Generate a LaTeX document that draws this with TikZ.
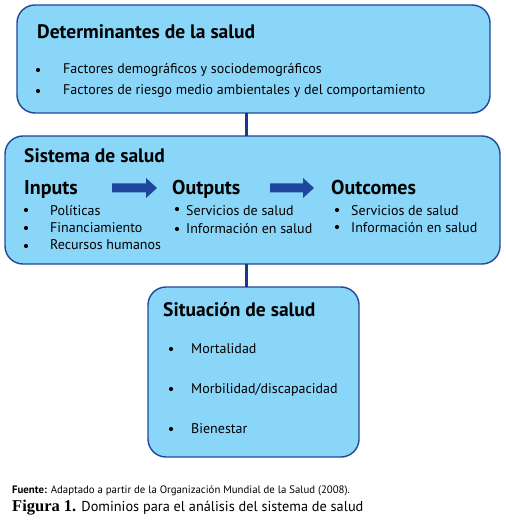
\documentclass[tikz,border=0pt]{standalone}
\usepackage{fontspec}
\setmainfont{PT Sans}
\newfontfamily\serifb{Liberation Serif}
\definecolor{boxfill}{RGB}{138,214,248}
\definecolor{boxline}{RGB}{30,72,150}
\definecolor{navy}{RGB}{24,58,140}
\definecolor{arrowc}{RGB}{30,70,155}
\tikzset{
  bigbox/.style={draw=boxline, fill=boxfill, line width=1.4pt, rounded corners=18pt},
  title/.style={anchor=base west, inner sep=0pt, font=\fontsize{19.5}{22}\selectfont\bfseries},
  sub/.style={anchor=base west, inner sep=0pt, font=\fontsize{20}{22}\selectfont\bfseries},
  txt/.style={anchor=base west, inner sep=0pt, font=\fontsize{14}{16}\selectfont},
  bul/.style={circle, fill=black, inner sep=0pt, minimum size=4.2pt},
  conn/.style={draw=navy, line width=3pt},
  blockarrow/.style={fill=arrowc, draw=none}
}
\begin{document}
\begin{tikzpicture}[x=1pt,y=-1pt]
\useasboundingbox (0,0) rectangle (505,521);
% boxes
\path[bigbox] (17,5) rectangle (490,113);
\path[bigbox] (5,136) rectangle (500,264);
\path[bigbox] (148,287) rectangle (359,457);
\coordinate (b1bot) at (246,113);
\coordinate (b2top) at (246,136);
\coordinate (b2bot) at (246,264);
\coordinate (b3top) at (246,287);
\draw[conn] (b1bot) -- (b2top);
\draw[conn] (b2bot) -- (b3top);
% box 1
\node[title] (t1) at (37,39) {Determinantes de la salud};
\node[bul] (d1) at (38,70) {};
\node[txt] (d1t) at (63,74) {Factores demográficos y sociodemográficos};
\node[bul] (d2) at (38,91) {};
\node[txt] (d2t) at (63,95) {Factores de riesgo medio ambientales y del comportamiento};
% box 2
\node[title] (t2) at (24,163) {Sistema de salud};
\node[sub] (in) at (24,194) {Inputs};
\node[sub] (out) at (172,194) {Outputs};
\node[sub] (oc) at (331,194) {Outcomes};
\fill[blockarrow] (112,183.5) -- (146,183.5) -- (146,178) -- (157,188) -- (146,198) -- (146,192.5) -- (112,192.5) -- cycle;
\fill[blockarrow] (270,183.5) -- (303,183.5) -- (303,178) -- (314,188) -- (303,198) -- (303,192.5) -- (270,192.5) -- cycle;
\node[bul] (i1) at (26,210) {};
\node[txt] (i1t) at (50,215) {Políticas};
\node[bul] (i2) at (26,228) {};
\node[txt] (i2t) at (50,232) {Financiamiento};
\node[bul] (i3) at (26,246) {};
\node[txt] (i3t) at (50,249) {Recursos humanos};
\node[bul] (o1) at (177,209) {};
\node[txt] (o1t) at (186,215) {Servicios de salud};
\node[bul] (o2) at (177,229) {};
\node[txt] (o2t) at (186,233) {Información en salud};
\node[bul] (c1) at (337,210) {};
\node[txt] (c1t) at (351,215) {Servicios de salud};
\node[bul] (c2) at (337,227) {};
\node[txt] (c2t) at (351,232) {Información en salud};
% box 3
\node[title] (t3) at (163,316) {Situación de salud};
\node[bul] (s1) at (171,349) {};
\node[txt] (s1t) at (191,353) {Mortalidad};
\node[bul] (s2) at (171,389) {};
\node[txt] (s2t) at (191,393) {Morbilidad/discapacidad};
\node[bul] (s3) at (171,429) {};
\node[txt] (s3t) at (191,433) {Bienestar};
% footer
\node[anchor=base west, inner sep=0pt, font=\fontsize{10.8}{12}\selectfont] (src) at (12,493) {\textbf{Fuente:} Adaptado a partir de la Organización Mundial de la Salud (2008).};
\node[anchor=base west, inner sep=0pt, font=\fontsize{14.3}{16}\selectfont] (cap) at (12,511) {{\serifb\bfseries\fontsize{16.5}{18}\selectfont Figura 1.} Dominios para el análisis del sistema de salud};
\end{tikzpicture}
\end{document}
